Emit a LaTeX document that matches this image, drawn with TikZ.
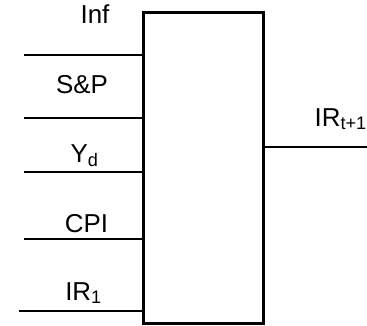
\documentclass[tikz,border=0pt]{standalone}
\usepackage{fontspec}
\setmainfont{Liberation Sans}
\usetikzlibrary{calc}

\begin{document}
\begin{tikzpicture}[x=1bp,y=-1bp,
    lbl/.style={anchor=base,inner sep=0pt,font=\fontsize{26}{30}\selectfont},
    wire/.style={line width=1.5bp}]
        \useasboundingbox (0,0) rectangle (367,326);
        % the block itself
        \node[draw,line width=3bp,minimum width=119bp,minimum height=311bp,inner sep=0pt] (blk) at (203.5,167.5) {};
        % inputs on the left
        \coordinate (inInf) at (24,55);
        \coordinate (inSP) at (24,118);
        \coordinate (inYd) at (24,172);
        \coordinate (inCPI) at (24,239);
        \coordinate (inIR) at (19,311);
        \draw[wire] (inInf) -- (inInf -| blk.west);
        \draw[wire] (inSP) -- (inSP -| blk.west);
        \draw[wire] (inYd) -- (inYd -| blk.west);
        \draw[wire] (inCPI) -- (inCPI -| blk.west);
        \draw[wire] (inIR) -- (inIR -| blk.west);
        \node[lbl] (lInf) at (95,23) {Inf};
        \node[lbl] (lSP) at (82,93) {S\&P};
        \node[lbl] (lYd) at (84.5,162) {Y\textsubscript{d}};
        \node[lbl] (lCPI) at (86.5,232) {CPI};
        \node[lbl] (lIR) at (83.5,300) {IR\textsubscript{1}};
        % output on the right
        \coordinate (outIR) at (367,147);
        \draw[line width=2bp] (blk.east |- outIR) -- (outIR);
        \node[lbl,anchor=base east] (lOut) at (367,126) {IR\textsubscript{t+1}};
\end{tikzpicture}
\end{document}
